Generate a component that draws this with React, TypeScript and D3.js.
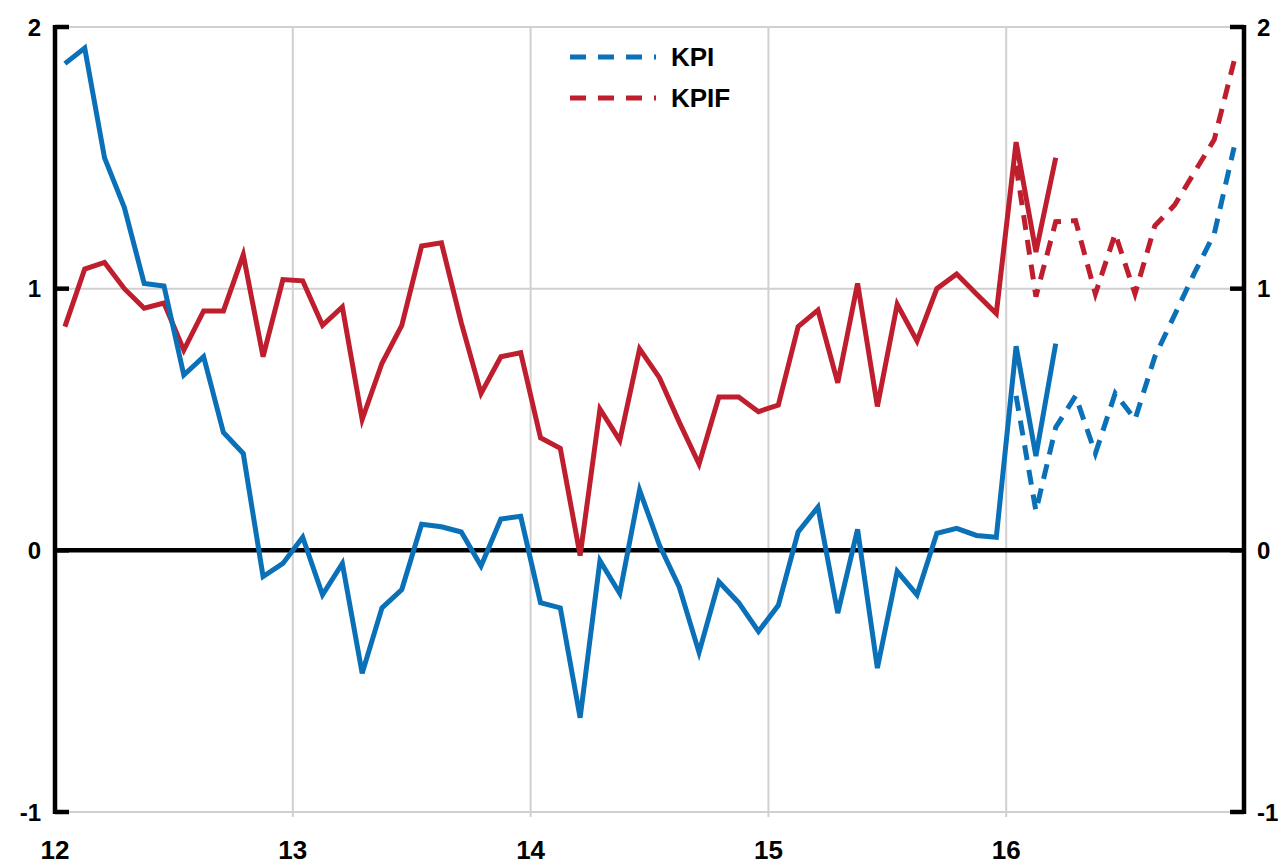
import React from "react";
import * as d3 from "d3";

// Monthly data, starting January 2012 (year index 12 = 2012)
const startYear = 12;
const kpi: number[] = [1.86, 1.92, 1.5, 1.31, 1.02, 1.01, 0.67, 0.74, 0.45, 0.37, -0.1, -0.05, 0.05, -0.17, -0.05, -0.47, -0.22, -0.15, 0.1, 0.09, 0.07, -0.06, 0.12, 0.13, -0.2, -0.22, -0.64, -0.04, -0.165, 0.23, 0.02, -0.14, -0.39, -0.12, -0.2, -0.31, -0.21, 0.07, 0.165, -0.24, 0.08, -0.45, -0.08, -0.17, 0.065, 0.084, 0.057, 0.05, 0.78, 0.36, 0.79];
const kpif: number[] = [0.855, 1.075, 1.1, 1.0, 0.925, 0.945, 0.765, 0.915, 0.915, 1.13, 0.74, 1.035, 1.03, 0.86, 0.93, 0.5, 0.715, 0.86, 1.163, 1.175, 0.87, 0.6, 0.74, 0.755, 0.43, 0.39, -0.02, 0.54, 0.42, 0.77, 0.66, 0.49, 0.33, 0.586, 0.586, 0.53, 0.555, 0.855, 0.918, 0.64, 1.02, 0.55, 0.94, 0.8, 1.0, 1.056, 0.98, 0.905, 1.56, 1.14, 1.5];
// Forecasts, January 2016 - December 2016
const forecastStart = 48;
const kpiForecast: number[] = [0.59, 0.15, 0.47, 0.59, 0.37, 0.6, 0.5, 0.74, 0.9, 1.06, 1.21, 1.54];
const kpifForecast: number[] = [1.47, 0.97, 1.256, 1.26, 0.98, 1.21, 0.98, 1.24, 1.32, 1.445, 1.57, 1.87];

const xTicks = [12, 13, 14, 15, 16];
const yTicks = [-1, 0, 1, 2];
const legendItems = [
  { label: "KPI", color: "#0A70B8" },
  { label: "KPIF", color: "#BE1E2D" },
];

const BLUE = "#0A70B8";
const RED = "#BE1E2D";
const FONT = "'Liberation Sans', Arial, sans-serif";

export default function App() {
  const W = 1285;
  const H = 865;
  const x = d3.scaleLinear().domain([12, 17]).range([55, 1244]);
  const y = d3.scaleLinear().domain([-1, 2]).range([812, 27]);
  const pos = (i: number) => startYear + (i + 0.5) / 12;

  const line = d3
    .line<[number, number]>()
    .x((d) => x(pos(d[0])))
    .y((d) => y(d[1]));

  const kpiPts = kpi.map((v, i) => [i, v] as [number, number]);
  const kpifPts = kpif.map((v, i) => [i, v] as [number, number]);
  const kpiFPts = kpiForecast.map((v, i) => [i + forecastStart, v] as [number, number]);
  const kpifFPts = kpifForecast.map((v, i) => [i + forecastStart, v] as [number, number]);

  const x0 = x(12);
  const x1 = x(17);
  const yTop = y(2);
  const yBot = y(-1);

  return (
    <svg
      width={W}
      height={H}
      style={{ position: "absolute", left: 0, top: 0, background: "#fff" }}
      fontFamily={FONT}
    >
      {/* horizontal gridlines */}
      {yTicks
        .filter((t) => t !== 0)
        .map((t) => (
          <line key={"hg" + t} x1={x0} x2={x1} y1={y(t)} y2={y(t)} stroke="#d0d0d0" strokeWidth={2} />
        ))}
      {/* vertical gridlines */}
      {xTicks
        .filter((t) => t !== 12)
        .map((t) => (
          <line key={"vg" + t} x1={x(t)} x2={x(t)} y1={yTop} y2={yBot + 5} stroke="#d0d0d0" strokeWidth={2} />
        ))}
      {/* zero line */}
      <line x1={x0} x2={x1} y1={y(0)} y2={y(0)} stroke="#000" strokeWidth={4.5} />

      {/* series */}
      <path d={line(kpifFPts) || ""} fill="none" stroke={RED} strokeWidth={5} strokeDasharray="15,10" />
      <path d={line(kpiFPts) || ""} fill="none" stroke={BLUE} strokeWidth={5} strokeDasharray="15,10" />
      <path d={line(kpifPts) || ""} fill="none" stroke={RED} strokeWidth={5} />
      <path d={line(kpiPts) || ""} fill="none" stroke={BLUE} strokeWidth={5} />

      {/* left axis */}
      <line x1={x0} x2={x0} y1={yTop - 2} y2={yBot + 2} stroke="#000" strokeWidth={4.5} />
      {yTicks.map((t) => (
        <g key={"ly" + t}>
          <line x1={x0} x2={x0 + 14} y1={y(t)} y2={y(t)} stroke="#000" strokeWidth={4.5} />
          <text x={41} y={y(t)} dy="0.36em" textAnchor="end" fontSize={24} fontWeight="bold" fill="#000">
            {t}
          </text>
        </g>
      ))}
      {/* right axis */}
      <line x1={x1} x2={x1} y1={yTop - 2} y2={yBot + 2} stroke="#000" strokeWidth={4.5} />
      {yTicks.map((t) => (
        <g key={"ry" + t}>
          <line x1={x1 - 14} x2={x1} y1={y(t)} y2={y(t)} stroke="#000" strokeWidth={4.5} />
          <text x={1257} y={y(t)} dy="0.36em" textAnchor="start" fontSize={24} fontWeight="bold" fill="#000">
            {t}
          </text>
        </g>
      ))}
      {/* x labels */}
      {xTicks.map((t) => (
        <text key={"xl" + t} x={x(t)} y={859} textAnchor="middle" fontSize={26} fontWeight="bold" fill="#000">
          {t}
        </text>
      ))}

      {/* legend */}
      {legendItems.map((it, i) => (
        <g key={it.label} transform={`translate(570, ${57 + i * 41})`}>
          <line x1={0} x2={86} y1={0} y2={0} stroke={it.color} strokeWidth={5} strokeDasharray="16,12" />
          <text x={101} y={9} fontSize={26} fontWeight="bold" fill="#000">
            {it.label}
          </text>
        </g>
      ))}
    </svg>
  );
}
